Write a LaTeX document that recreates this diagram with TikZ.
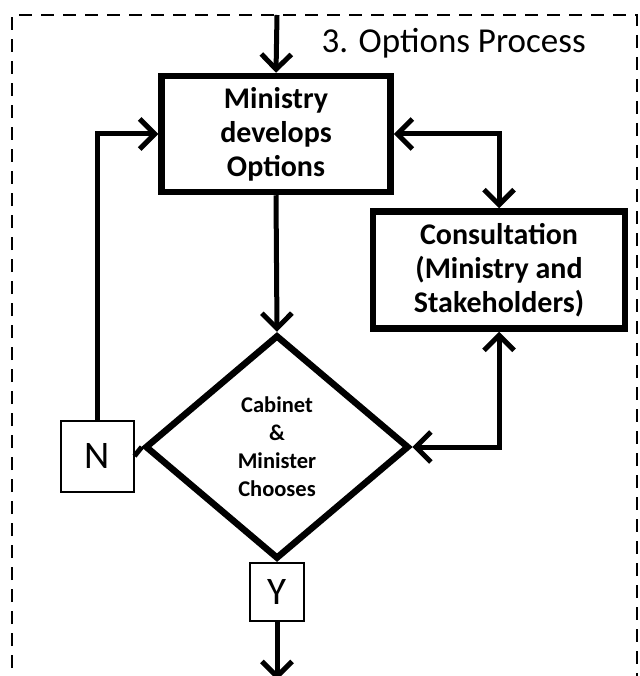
\documentclass[tikz,border=0pt]{standalone}
\usepackage{fontspec}
\setmainfont{Carlito}
\usetikzlibrary{shapes.geometric,arrows.meta}
\begin{document}
\begin{tikzpicture}[x=1pt,y=-1pt,
  flow/.style={line width=5pt,-{Straight Barb[length=15pt,width=30pt,line width=5pt]}},
  both/.style={line width=5pt,{Straight Barb[length=15pt,width=30pt,line width=5pt]}-{Straight Barb[length=15pt,width=30pt,line width=5pt]}},
  plain/.style={line width=5pt},
  procbox/.style={draw,line width=6.5pt,align=center,font=\fontsize{30}{34}\selectfont\bfseries,inner sep=0pt},
  decision/.style={draw,diamond,line width=6.5pt,align=center,inner sep=0pt,font=\fontsize{22.5}{28}\selectfont\bfseries},
  answer/.style={draw,line width=2pt,fill=white,inner sep=0pt,font=\fontsize{39}{39}\selectfont},
  frame/.style={line width=2.2pt,dash pattern=on 13pt off 9pt}]
\useasboundingbox (0,0) rectangle (639,676);
% dashed frame, open at the bottom
\draw[frame] (12,690) -- (12,15) -- (637,15) -- (637,690);
\node[anchor=base west,font=\fontsize{35}{35}\selectfont] (title) at (318,53) {3. Options Process};
% boxes
\node[procbox,minimum width=229pt,minimum height=116pt] (min) at (276,134) {Ministry\\develops\\Options};
\node[procbox,minimum width=252pt,minimum height=117pt] (con) at (499,270) {Consultation\\(Ministry and\\Stakeholders)};
\node[decision,minimum width=264pt,minimum height=224pt] (dec) at (277,447) {Cabinet\\\&\\Minister\\Chooses};
\node[answer,minimum width=73pt,minimum height=71pt] (no) at (97,456) {N};
\node[answer,minimum width=54pt,minimum height=58pt] (yes) at (277,592) {Y};
\coordinate (in) at (277,15);
\coordinate (out) at (277,680);
% connectors
\draw[flow] (in) -- (min.north);
\draw[flow] (min.south) -- (dec.north);
\draw[flow] (no.north) |- (min.west);
\draw[both] (min.east) -| (con.north);
\draw[both] (con.south) |- (dec.east);
\draw[plain] (no.east) -- (dec.west);
\draw[flow] (yes.south) -- (out);
\end{tikzpicture}
\end{document}
